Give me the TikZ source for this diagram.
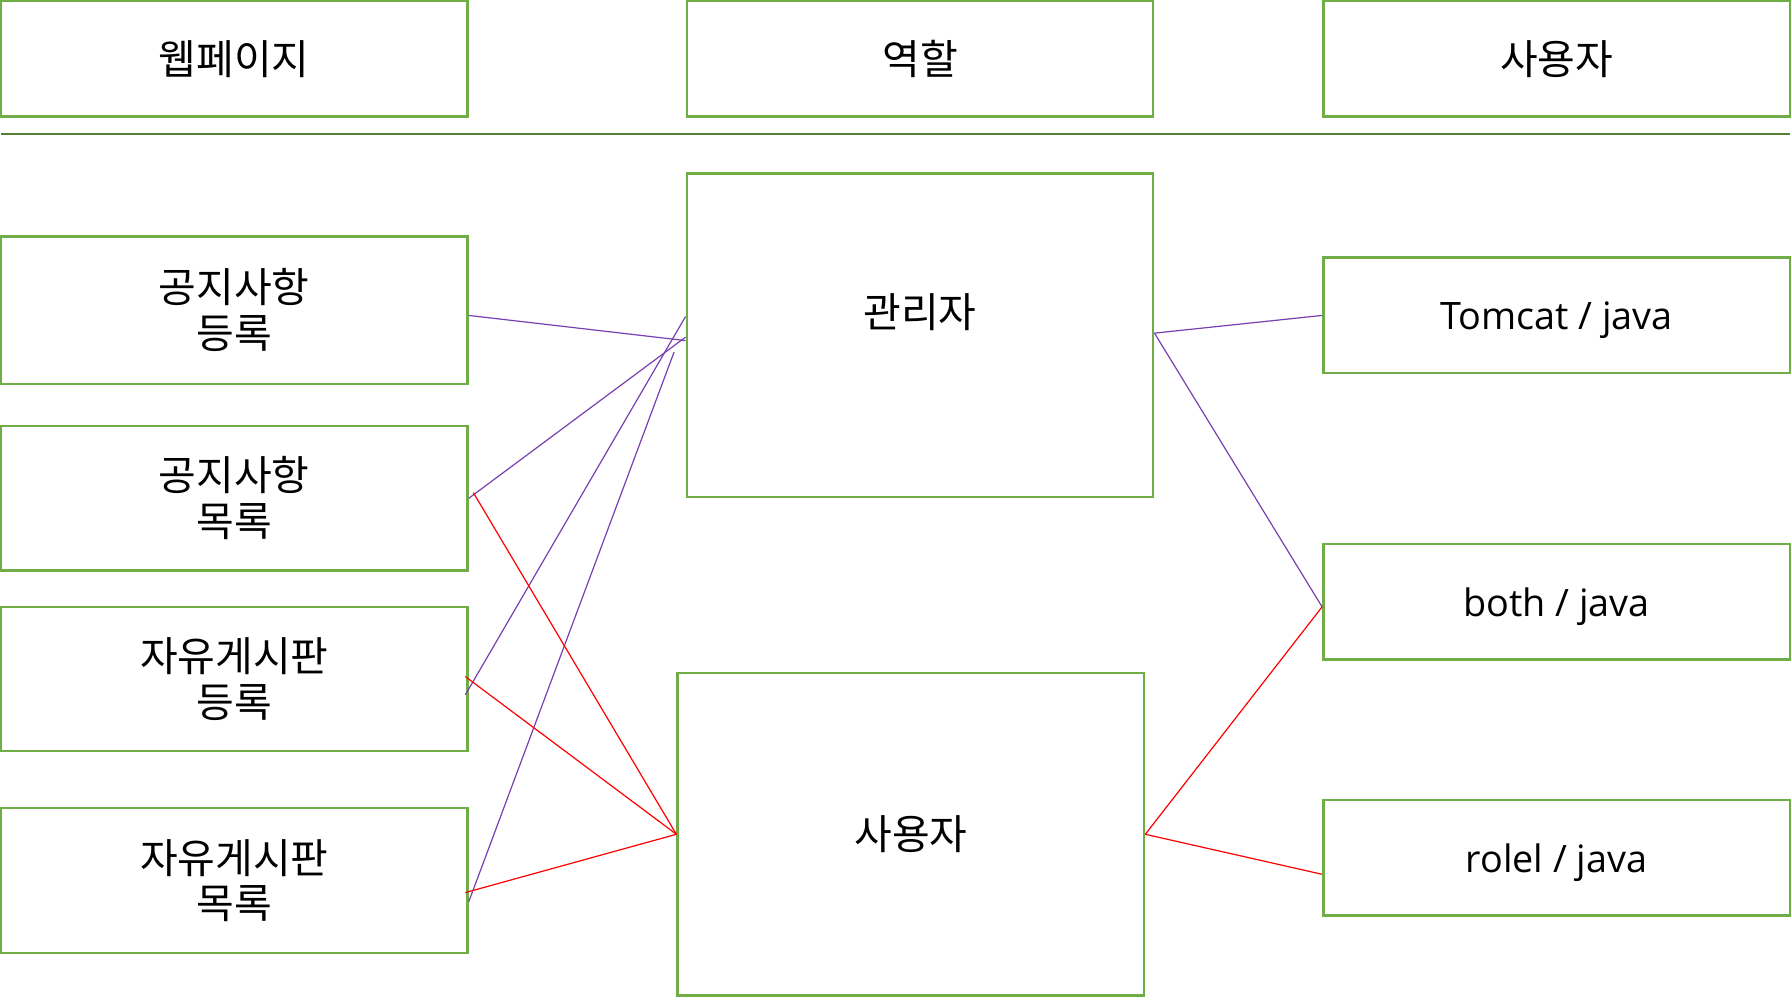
\documentclass[tikz,border=0pt]{standalone}
\usepackage{fontspec}
\setmainfont{Open Sans}
\newfontfamily\krfont{Noto Sans CJK KR}
\usetikzlibrary{positioning, calc}
\definecolor{boxgreen}{RGB}{112,173,71}
\definecolor{rulegreen}{RGB}{84,130,53}
\definecolor{linkpurple}{RGB}{120,64,176}
\definecolor{linkred}{RGB}{255,0,0}
\tikzset{
  box/.style={draw=boxgreen, line width=0.6pt, minimum width=4.08cm,
    minimum height=1.01cm, inner sep=0pt, align=center,
    font=\krfont\fontsize{10.2}{11.4}\selectfont},
  latin/.style={font=\fontsize{9.4}{11.4}\selectfont, text depth=0pt},
  plink/.style={draw=linkpurple, line width=0.3pt},
  rlink/.style={draw=linkred, line width=0.3pt}
}

\begin{document}
\begin{tikzpicture}[x=0.01cm, y=-0.01cm]
        \useasboundingbox (0,0) rectangle (1568,872);
        % header row
        \node[box] (hpage) at (205,51.5) {웹페이지};
        \node[box] (hrole) at (805,51.5) {역할};
        \node[box] (huser) at (1362,51.5) {사용자};
        \draw[rulegreen, line width=0.4pt] (1,117) -- (1566,117);
        % web pages
        \node[box, minimum height=1.29cm] (noticeadd) at (205,271.5) {공지사항\\등록};
        \node[box, minimum height=1.26cm] (noticelist) at (205,436) {공지사항\\목록};
        \node[box, minimum height=1.26cm] (freeadd) at (205,594) {자유게시판\\등록};
        \node[box, minimum height=1.27cm] (freelist) at (205,770.5) {자유게시판\\목록};
        % roles
        \node[box, minimum height=2.83cm, text depth=4.3mm] (admin) at (805,293.5) {관리자};
        \node[box, minimum height=2.82cm] (user) at (797,730) {사용자};
        % users
        \node[box, latin] (tomcat) at (1362,276) {Tomcat / java};
        \node[box, latin] (both) at (1362,526.5) {both / java};
        \node[box, latin] (rolel) at (1362,750.5) {rolel / java};
        % page -> role
        \draw[plink] ($(noticeadd.east)+(0,4.5)$) -- ($(admin.west)+(0,4.5)$);
        \draw[plink] (noticelist.east) -- ($(admin.west)+(0,1.5)$);
        \draw[plink] ($(freeadd.east)+(-3,14)$) -- ($(admin.west)+(0,-16.5)$);
        \draw[plink] ($(freelist.east)+(0,18.5)$) -- ($(admin.west)+(-10,14.5)$);
        \draw[rlink] ($(noticelist.east)+(4,-5)$) -- (user.west);
        \draw[rlink] ($(freeadd.east)+(-3,-2)$) -- (user.west);
        \draw[rlink] ($(freelist.east)+(-3,10.5)$) -- (user.west);
        % role -> user
        \draw[plink] ($(admin.east)+(0,-2)$) -- (tomcat.west);
        \draw[plink] ($(admin.east)+(0,-2)$) -- ($(both.west)+(0,4.5)$);
        \draw[rlink] (user.east) -- ($(both.west)+(0,4.5)$);
        \draw[rlink] (user.east) -- ($(rolel.west)+(0,14.5)$);
      \end{tikzpicture}
\end{document}
